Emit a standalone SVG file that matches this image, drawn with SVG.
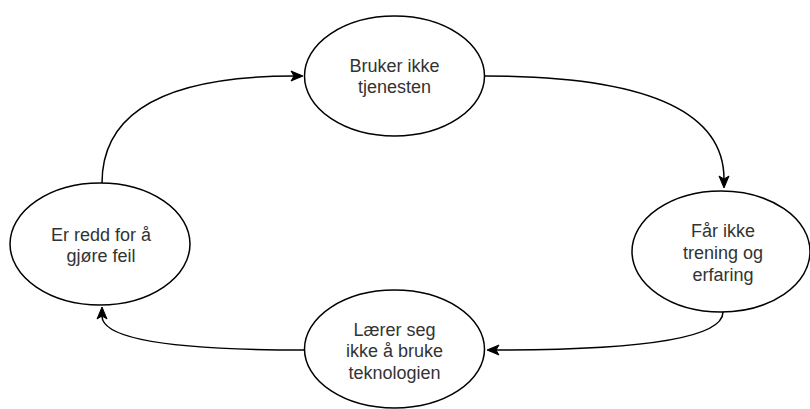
<svg xmlns="http://www.w3.org/2000/svg" width="810" height="409" viewBox="0 0 810 409">
  <style>
    .node ellipse { fill: #ffffff; stroke: #000000; stroke-width: 1.5; }
    .node text { font-family: "Liberation Sans", Arial, Helvetica, sans-serif; font-size: 18px; fill: #333333; text-anchor: middle; }
    .edge { fill: none; stroke: #000000; stroke-width: 1.5; marker-end: url(#arrow); }
  </style>
  <defs>
    <marker id="arrow" markerUnits="userSpaceOnUse" markerWidth="14" markerHeight="12" refX="3" refY="5" orient="auto" overflow="visible">
      <path d="M 12 5 L 0 0 L 3 5 L 0 10 Z" fill="#000000" stroke="#000000" stroke-width="1"/>
    </marker>
  </defs>
  <rect width="810" height="409" fill="#ffffff"/>

  <g id="connectors">
    <path class="edge" d="M 485 76 C 620 76 724 100 724 179"/>
    <path class="edge" d="M 723 312 Q 723 350 496 350"/>
    <path class="edge" d="M 304 350 Q 102 350 102 316"/>
    <path class="edge" d="M 102 183 Q 102 76 294 76"/>
  </g>

  <g id="node-bruker-ikke" class="node">
    <ellipse cx="394.5" cy="76" rx="90" ry="60"/>
    <text x="394.5" y="71.7">Bruker ikke</text>
    <text x="394.5" y="93.3">tjenesten</text>
  </g>

  <g id="node-faar-ikke" class="node">
    <ellipse cx="721" cy="251.5" rx="89" ry="60.5"/>
    <text x="723" y="237.3">Får ikke</text>
    <text x="723" y="258.9">trening og</text>
    <text x="723" y="280.5">erfaring</text>
  </g>

  <g id="node-laerer-seg" class="node">
    <ellipse cx="394.5" cy="349" rx="90" ry="59"/>
    <text x="394.5" y="335.5">Lærer seg</text>
    <text x="394.5" y="357.1">ikke å bruke</text>
    <text x="394.5" y="378.7">teknologien</text>
  </g>

  <g id="node-redd" class="node">
    <ellipse cx="100" cy="244" rx="90" ry="61"/>
    <text x="101" y="240.5">Er redd for å</text>
    <text x="101" y="262.1">gjøre feil</text>
  </g>
</svg>
